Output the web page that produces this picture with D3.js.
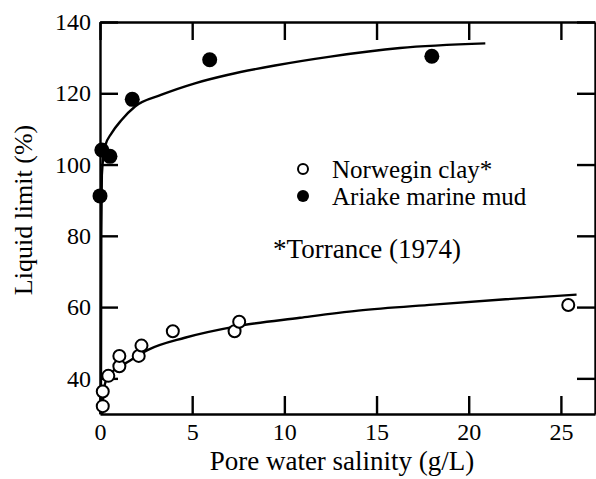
<!DOCTYPE html>
<html>
<head>
<meta charset="utf-8">
<script src="https://cdn.jsdelivr.net/npm/d3@7"></script>
<style>
  html, body { margin: 0; padding: 0; background: #fff; }
  svg text { font-family: 'Liberation Serif', 'Times New Roman', Times, 'DejaVu Serif', serif; fill: #000; }
</style>
</head>
<body>
<div id="chart"></div>
<script>
// Norwegian clay (Torrance 1974) - open circles
const norwX = [0.15, 0.15, 0.45, 1.05, 1.05, 2.1, 2.25, 3.95, 7.3, 7.55, 25.4];
const norwY = [32.2, 36.3, 40.7, 43.4, 46.3, 46.3, 49.2, 53.2, 53.2, 55.9, 60.6];

// Ariake marine mud - filled circles
const ariX = [0.0, 0.1, 0.54, 1.75, 5.95, 18.0];
const ariY = [91.2, 104.1, 102.3, 118.3, 129.4, 130.4];

// fitted curves
const norwCurveX = [0.12, 0.18, 0.3, 0.7, 1.5, 2.6, 4.6, 7.4, 10.85, 14.0, 18.07, 22.0, 25.85];
const norwCurveY = [30, 35, 39, 42, 44.6, 48, 51.4, 54.6, 57.0, 59.0, 60.7, 62.2, 63.5];
const ariCurveX = [0.05, 0.07, 0.1, 0.27, 0.63, 1.17, 1.9, 3.34, 5.15, 6.96, 9.49, 12.5, 16.27, 20.9];
const ariCurveY = [30, 80, 97, 105.1, 108.8, 112.5, 116.3, 119.6, 122.8, 125.2, 127.8, 130.3, 132.7, 134.0];

const xTicks = [0, 5, 10, 15, 20, 25];
const yTicks = [40, 60, 80, 100, 120, 140];

const legendLabels = ['Norwegin clay*', 'Ariake marine mud'];

const width = 596, height = 479;
const margin = { left: 100, right: 1, top: 22, bottom: 65 };
const serif = "'Liberation Serif', 'Times New Roman', Times, 'DejaVu Serif', serif";

const svg = d3.select('#chart').append('svg')
    .attr('width', width)
    .attr('height', height)
    .style('display', 'block');

const x = d3.scaleLinear().domain([0, 26.85]).range([margin.left, width - margin.right]);
const y = d3.scaleLinear().domain([30, 140]).range([height - margin.bottom, margin.top]);

const tickLen = 18;

// axes - ticks point inward
const axisB = svg.append('g')
    .attr('transform', `translate(0,${y(30)})`)
    .call(d3.axisBottom(x).tickValues(xTicks).tickSize(-tickLen).tickSizeOuter(0).tickPadding(9));
const axisL = svg.append('g')
    .attr('transform', `translate(${x(0)},0)`)
    .call(d3.axisLeft(y).tickValues(yTicks).tickSize(-tickLen).tickSizeOuter(0).tickPadding(9));
const axisT = svg.append('g')
    .attr('transform', `translate(0,${y(140)})`)
    .call(d3.axisTop(x).tickValues(xTicks).tickSize(-tickLen).tickSizeOuter(0).tickFormat(''));
const axisR = svg.append('g')
    .attr('transform', `translate(${x(26.85)},0)`)
    .call(d3.axisRight(y).tickValues(yTicks).tickSize(-tickLen).tickSizeOuter(0).tickFormat(''));

[axisB, axisL, axisT, axisR].forEach(g => {
    g.attr('font-family', serif).attr('font-size', 24);
    g.selectAll('path, line').attr('stroke', '#000').attr('stroke-width', 2.4);
    g.selectAll('text').attr('fill', '#000');
});

// fitted curves
const line = d3.line()
    .x(d => x(d[0]))
    .y(d => y(d[1]))
    .curve(d3.curveMonotoneX);

svg.append('path')
    .datum(norwCurveX.map((v, i) => [v, norwCurveY[i]]))
    .attr('d', line)
    .attr('fill', 'none')
    .attr('stroke', '#000')
    .attr('stroke-width', 2.4);

svg.append('path')
    .datum(ariCurveX.map((v, i) => [v, ariCurveY[i]]))
    .attr('d', line)
    .attr('fill', 'none')
    .attr('stroke', '#000')
    .attr('stroke-width', 2.4);

// data points
svg.selectAll('.norw')
    .data(norwX.map((v, i) => [v, norwY[i]]))
    .enter()
    .append('circle')
    .attr('class', 'norw')
    .attr('cx', d => x(d[0]))
    .attr('cy', d => y(d[1]))
    .attr('r', 6)
    .attr('fill', '#fff')
    .attr('stroke', '#000')
    .attr('stroke-width', 2);

svg.selectAll('.ari')
    .data(ariX.map((v, i) => [v, ariY[i]]))
    .enter()
    .append('circle')
    .attr('class', 'ari')
    .attr('cx', d => x(d[0]))
    .attr('cy', d => y(d[1]))
    .attr('r', 7.5)
    .attr('fill', '#000');

// legend
const legend = svg.append('g').attr('transform', 'translate(303,0)');
const legendRows = legend.selectAll('g')
    .data(legendLabels)
    .enter()
    .append('g')
    .attr('transform', (d, i) => `translate(0,${169 + i * 27})`);

legendRows.append('circle')
    .attr('r', (d, i) => i === 0 ? 5 : 6)
    .attr('fill', (d, i) => i === 0 ? '#fff' : '#000')
    .attr('stroke', '#000')
    .attr('stroke-width', (d, i) => i === 0 ? 2 : 0);

legendRows.append('text')
    .attr('x', 29)
    .attr('y', 8.5)
    .attr('font-family', serif)
    .attr('font-size', 25)
    .text(d => d);

svg.append('text')
    .attr('x', 367)
    .attr('y', 258)
    .attr('text-anchor', 'middle')
    .attr('font-family', serif)
    .attr('font-size', 27)
    .text('*Torrance (1974)');

// axis titles
svg.append('text')
    .attr('x', 342)
    .attr('y', 470)
    .attr('text-anchor', 'middle')
    .attr('font-family', serif)
    .attr('font-size', 27)
    .text('Pore water salinity (g/L)');

svg.append('text')
    .attr('transform', 'translate(32,210) rotate(-90)')
    .attr('text-anchor', 'middle')
    .attr('font-family', serif)
    .attr('font-size', 26)
    .text('Liquid limit (%)');
</script>
</body>
</html>
